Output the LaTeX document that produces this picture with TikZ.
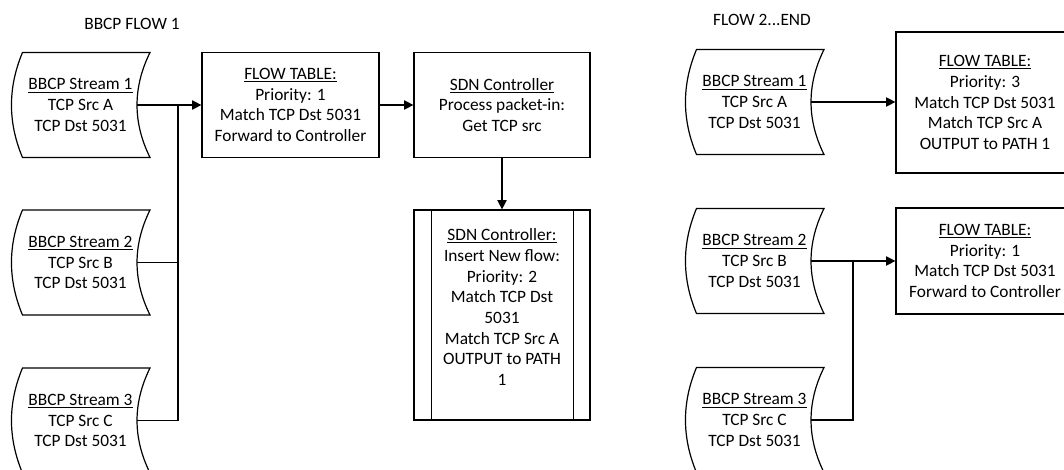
\documentclass[tikz,border=0pt]{standalone}
\usepackage{fontspec}
\setmainfont{Carlito}
\usetikzlibrary{arrows.meta,calc}
\tikzset{
  every node/.style={font=\fontsize{13}{15.5}\selectfont},
  shapeline/.style={draw=black,line width=0.9pt},
  stream/.style={inner sep=0pt,minimum width=84.75pt,minimum height=78.75pt,align=center},
  flowbox/.style={shapeline,inner sep=0pt,align=center,minimum width=132.75pt,minimum height=78.75pt},
  link/.style={line width=0.9pt},
  arrowlink/.style={link,-{Triangle[length=7pt,width=7pt]}},
}
% outline of a "stored data" stream: bulging left side, hollow right side
\newcommand\streamoutline[1]{%
  \draw[shapeline,shift={(#1.center)}]
    (-58,-52.5) .. controls (-72.7,-17.5) and (-72.7,17.5) .. (-58,52.5)
    -- (69.5,52.5) .. controls (52.2,17.5) and (52.2,-17.5) .. (69.5,-52.5)
    -- cycle;}
\begin{document}
\begin{tikzpicture}[x=0.75pt,y=-0.75pt]
\useasboundingbox (0,0) rectangle (1064,470);
\clip (0,0) rectangle (1064,470);

% ---------- first flow ----------
\node (h1) at (132,24) {BBCP FLOW 1};

\node[stream] (s1) at (80.5,105) {\underline{BBCP Stream 1}\\TCP Src A\\TCP Dst 5031};
\node[stream] (s2) at (80.5,262.5) {\underline{BBCP Stream 2}\\TCP Src B\\TCP Dst 5031};
\node[stream] (s3) at (80.5,420.5) {\underline{BBCP Stream 3}\\TCP Src C\\TCP Dst 5031};
\streamoutline{s1}
\streamoutline{s2}
\streamoutline{s3}

\node[flowbox] (ft1) at (290.5,105) {\underline{FLOW TABLE:}\\Priority: 1\\Match TCP Dst 5031\\Forward to Controller};
\node[flowbox,minimum width=132pt] (sdn) at (502,105) {\underline{SDN Controller}\\Process packet-in:\\Get TCP src};

\node[flowbox,minimum width=132pt,minimum height=157.5pt] (ins) at (502,315) {};
\draw[shapeline] ([xshift=13.5pt]ins.north west) -- ([xshift=13.5pt]ins.south west);
\draw[shapeline] ([xshift=-12.75pt]ins.north east) -- ([xshift=-12.75pt]ins.south east);
\node[align=center] (instext) at (502,307) {\underline{SDN Controller:}\\Insert New flow:\\Priority: 2\\Match TCP Dst\\5031\\Match TCP Src A\\OUTPUT to PATH\\1};

\coordinate (jl) at (178,105);
\draw[arrowlink] (s1.east) -- (ft1.west);
\draw[link] (s2.east) -| (jl);
\draw[link] (s3.east) -| (jl);
\draw[arrowlink] (ft1.east) -- (sdn.west);
\draw[arrowlink] (sdn.south) -- (ins.north);

% ---------- remaining flows ----------
\node (h2) at (762,20) {FLOW 2...END};

\node[stream] (r1) at (754.5,102) {\underline{BBCP Stream 1}\\TCP Src A\\TCP Dst 5031};
\node[stream] (r2) at (754.5,261) {\underline{BBCP Stream 2}\\TCP Src B\\TCP Dst 5031};
\node[stream] (r3) at (754.5,420) {\underline{BBCP Stream 3}\\TCP Src C\\TCP Dst 5031};
\streamoutline{r1}
\streamoutline{r2}
\streamoutline{r3}

\node[flowbox,minimum width=133.5pt,minimum height=105.75pt] (ft2) at (985,102.5) {\underline{FLOW TABLE:}\\Priority: 3\\Match TCP Dst 5031\\Match TCP Src A\\OUTPUT to PATH 1};
\node[flowbox,minimum width=133.5pt,minimum height=79.5pt] (ft3) at (985,261) {\underline{FLOW TABLE:}\\Priority: 1\\Match TCP Dst 5031\\Forward to Controller};

\coordinate (jr) at (853,261);
\draw[arrowlink] (r1.east) -- (r1.east -| ft2.west);
\draw[arrowlink] (r2.east) -- (ft3.west);
\draw[link] (r3.east) -| (jr);
\end{tikzpicture}
\end{document}
